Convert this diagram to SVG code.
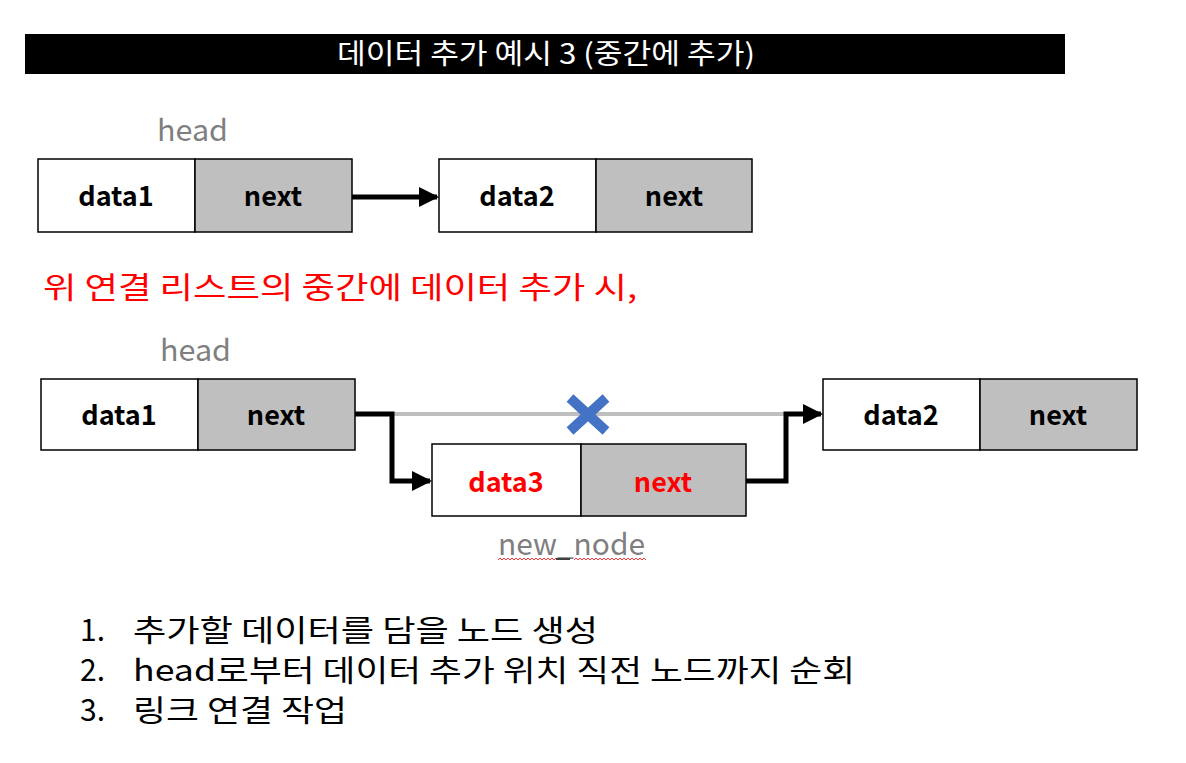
<svg xmlns="http://www.w3.org/2000/svg" width="1186" height="763" viewBox="0 0 1186 763">
<defs>
<style>
.t{font-family:"Noto Sans CJK KR","Noto Sans",sans-serif;}
.cell{stroke:#000;stroke-width:1.5;}
.d{fill:#fff;}
.n{fill:#bfbfbf;}
.lbl{font-family:"Noto Sans CJK KR","Noto Sans",sans-serif;font-weight:bold;font-size:27px;text-anchor:middle;fill:#000;}
.red{fill:#ff0000;}
.gray{font-family:"Noto Sans CJK KR","Noto Sans",sans-serif;font-size:30px;fill:#7f7f7f;}
.conn{fill:none;stroke:#000;stroke-width:5;}
</style>
<marker id="ah" markerWidth="4" markerHeight="4" refX="3.6" refY="2" orient="auto" markerUnits="strokeWidth">
<path d="M0,0 L4,2 L0,4 Z" fill="#000"/>
</marker>
</defs>
<rect width="1186" height="763" fill="#fff"/>
<g id="title">
<rect x="25" y="34" width="1040" height="40" fill="#000"/>
<text x="337" y="64" class="t" font-size="28" fill="#fff" textLength="418" lengthAdjust="spacingAndGlyphs">데이터 추가 예시 3 (중간에 추가)</text>
</g>
<g id="head1"><text x="157" y="141" class="gray" textLength="71" lengthAdjust="spacingAndGlyphs">head</text></g>
<g id="top-node1">
<rect x="38" y="159" width="157" height="73" class="cell d"/>
<rect x="195" y="159" width="157" height="73" class="cell n"/>
<text x="116" y="206" class="lbl">data1</text>
<text x="273" y="206" class="lbl">next</text>
</g>
<g id="top-node2">
<rect x="439" y="159" width="157" height="73" class="cell d"/>
<rect x="596" y="159" width="156" height="73" class="cell n"/>
<text x="517" y="206" class="lbl">data2</text>
<text x="674" y="206" class="lbl">next</text>
</g>
<g id="caption"><text x="43" y="298" class="t" font-size="30" fill="#ff0000" textLength="594" lengthAdjust="spacingAndGlyphs">위 연결 리스트의 중간에 데이터 추가 시,</text></g>
<g id="head2"><text x="160" y="361" class="gray" textLength="71" lengthAdjust="spacingAndGlyphs">head</text></g>
<g id="node-a">
<rect x="41" y="379" width="157" height="71" class="cell d"/>
<rect x="198" y="379" width="157" height="71" class="cell n"/>
<text x="119" y="425" class="lbl">data1</text>
<text x="276" y="425" class="lbl">next</text>
</g>
<g id="node-c">
<rect x="823" y="379" width="157" height="71" class="cell d"/>
<rect x="980" y="379" width="157" height="71" class="cell n"/>
<text x="901" y="425" class="lbl">data2</text>
<text x="1058" y="425" class="lbl">next</text>
</g>
<g id="node-b">
<rect x="432" y="444" width="149" height="72" class="cell d"/>
<rect x="581" y="444" width="165" height="72" class="cell n"/>
<text x="506" y="492" class="lbl red">data3</text>
<text x="663" y="492" class="lbl red">next</text>
</g>
<g id="new-node-label">
<text x="498" y="555" class="gray" textLength="147" lengthAdjust="spacingAndGlyphs">new_node</text>
<path d="M498,560 l2,-2 l2,2 l2,-2 l2,2 l2,-2 l2,2 l2,-2 l2,2 l2,-2 l2,2 l2,-2 l2,2 l2,-2 l2,2 l2,-2 l2,2 l2,-2 l2,2 l2,-2 l2,2 l2,-2 l2,2 l2,-2 l2,2 l2,-2 l2,2 l2,-2 l2,2 l2,-2 l2,2 M574,560 l2,-2 l2,2 l2,-2 l2,2 l2,-2 l2,2 l2,-2 l2,2 l2,-2 l2,2 l2,-2 l2,2 l2,-2 l2,2 l2,-2 l2,2 l2,-2 l2,2 l2,-2 l2,2 l2,-2 l2,2 l2,-2 l2,2 l2,-2 l2,2 l2,-2 l2,2 l2,-2 l2,2 l2,-2 l2,2 l2,-2 l2,2 l2,-2 l2,2" fill="none" stroke="#ff0000" stroke-width="0.8"/>
<rect x="556" y="558" width="14" height="2" fill="#404040"/>
</g>
<g id="connectors">
<line x1="352" y1="197" x2="437" y2="197" class="conn" marker-end="url(#ah)"/>
<line x1="392" y1="414" x2="786" y2="414" stroke="#bfbfbf" stroke-width="4"/>
<path d="M355,414 H392 V481 H430" class="conn" marker-end="url(#ah)"/>
<path d="M746,481 H786 V414 H821" class="conn" marker-end="url(#ah)"/>
</g>
<g id="cross">
<path d="M570,398 L606,431 M606,398 L570,431" stroke="#4472c4" stroke-width="10" fill="none"/>
</g>
<g id="steps" class="t" font-size="30" fill="#000">
<text x="80" y="641">1.</text><text x="133" y="641" textLength="465" lengthAdjust="spacingAndGlyphs">추가할 데이터를 담을 노드 생성</text>
<text x="80" y="681">2.</text><text x="133" y="681" textLength="722" lengthAdjust="spacingAndGlyphs">head로부터 데이터 추가 위치 직전 노드까지 순회</text>
<text x="80" y="721">3.</text><text x="133" y="721" textLength="214" lengthAdjust="spacingAndGlyphs">링크 연결 작업</text>
</g>
</svg>
